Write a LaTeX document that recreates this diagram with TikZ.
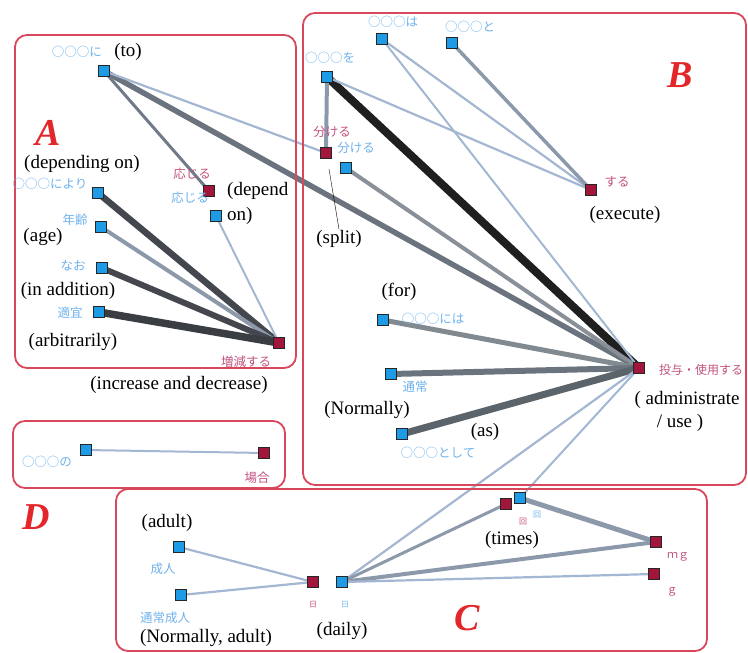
\documentclass[tikz,border=0pt]{standalone}
\usepackage{fontspec}
\setmainfont{Liberation Serif}
\newfontfamily\jfont{Noto Sans CJK JP}
\usetikzlibrary{backgrounds}
\definecolor{boxred}{HTML}{D9475C}
\definecolor{sqblue}{HTML}{1E9BE6}
\definecolor{sqred}{HTML}{A3163C}
\definecolor{jblue}{HTML}{6FB2EC}
\definecolor{jred}{HTML}{C2517E}
\definecolor{letred}{HTML}{E3262A}
\definecolor{lnlight}{HTML}{A3B6D2}
\definecolor{lnmid}{HTML}{8C99AB}
\definecolor{lngray}{HTML}{6B747E}
\definecolor{lndark}{HTML}{44484E}

\begin{document}
\begin{tikzpicture}[x=1pt, y=-1pt,
    bsq/.style={rectangle, draw=black!85, line width=1pt, fill=sqblue, minimum size=11pt, inner sep=0pt},
    rsq/.style={bsq, fill=sqred},
    jb/.style={text=jblue, font=\jfont\fontsize{12.5}{13}\selectfont, inner sep=1pt},
    jr/.style={jb, text=jred},
    jtiny/.style={font=\jfont\fontsize{8}{9}\selectfont, inner sep=1pt},
    en/.style={font=\fontsize{19}{21}\selectfont, inner sep=1pt},
    big/.style={text=letred, font=\bfseries\itshape\fontsize{38}{38}\selectfont},
    grp/.style={draw=boxred, line width=1.8pt, rounded corners=12pt},
    lthin/.style={draw=lnlight, line width=2.2pt},
    lmid/.style={draw=lnmid, line width=3.5pt},
    lgray/.style={draw=lngray, line width=5.5pt},
    ldark/.style={draw=lndark, line width=6.5pt},
    lblack/.style={draw=black!88, line width=8pt}]
    \useasboundingbox (0,0) rectangle (748,653);

    \draw[grp] (15,35) rectangle (296,368);
    \draw[grp] (303,13) rectangle (746,485);
    \draw[grp] (13,421) rectangle (285,488);
    \draw[grp] (116,489) rectangle (707,651);

    \node (letA) at (48,133) [big] {A};
    \node (letB) at (680,75) [big] {B};
    \node (letC) at (467,618) [big] {C};
    \node (letD) at (36,517) [big] {D};

    % group A
    \node (ni) at (104,71) [bsq] {};
    \node (niyori) at (98,193) [bsq] {};
    \node (nenrei) at (101,227) [bsq] {};
    \node (nao) at (102,268) [bsq] {};
    \node (tekigi) at (99,312) [bsq] {};
    \node (ouR) at (209,191) [rsq] {};
    \node (ouB) at (216,216) [bsq] {};
    \node (zougen) at (279,343) [rsq] {};

    \node (lni) at (77,52) [jb] {○○○に};
    \node (eni) at (128,52) [en] {(to)};
    \node (edepon) at (82,164) [en] {(depending on)};
    \node (lniyori) at (50,184) [jb] {○○○により};
    \node (louR) at (192,174) [jr] {応じる};
    \node (louB) at (190,198) [jb] {応じる};
    \node (edep1) at (226,191) [en, anchor=west] {(depend};
    \node (edep2) at (226,216) [en, anchor=west] {on)};
    \node (lnenrei) at (75,220) [jb] {年齢};
    \node (eage) at (43,237) [en] {(age)};
    \node (lnao) at (73,266) [jb] {なお};
    \node (eadd) at (68,291) [en] {(in addition)};
    \node (ltekigi) at (70,313) [jb] {適宜};
    \node (earb) at (73,342) [en] {(arbitrarily)};
    \node (lzougen) at (246,362) [jr] {増減する};
    \node (eincr) at (179,385) [en] {(increase and decrease)};

    % group B
    \node (wo) at (327,77) [bsq] {};
    \node (ha) at (382,39) [bsq] {};
    \node (to) at (452,43) [bsq] {};
    \node (wakR) at (326,153) [rsq] {};
    \node (wakB) at (346,168) [bsq] {};
    \node (suru) at (591,190) [rsq] {};
    \node (niha) at (383,320) [bsq] {};
    \node (tsuujou) at (391,374) [bsq] {};
    \node (toshite) at (402,434) [bsq] {};
    \node (touyo) at (639,368) [rsq] {};

    \node (lwo) at (330,58) [jb] {○○○を};
    \node (lha) at (393,22) [jb] {○○○は};
    \node (lto) at (470,27) [jb] {○○○と};
    \node (lwakR) at (332,132) [jr] {分ける};
    \node (lwakB) at (356,148) [jb] {分ける};
    \node (esplit) at (339,239) [en] {(split)};
    \coordinate (splitend) at (329,169);
    \node (lsuru) at (617,182) [jr] {する};
    \node (eexec) at (625,215) [en] {(execute)};
    \node (efor) at (399,292) [en] {(for)};
    \node (lniha) at (433,319) [jb] {○○○には};
    \node (ltsuujou) at (415,387) [jb] {通常};
    \node (enorm) at (367,410) [en] {(Normally)};
    \node (ltoshite) at (438,453) [jb] {○○○として};
    \node (eas) at (485,432) [en] {(as)};
    \node (ltouyo) at (701,370) [jr, font=\jfont\fontsize{12}{13}\selectfont] {投与・使用する};
    \node (eadm1) at (687,400) [en] {( administrate};
    \node (eadm2) at (680,423) [en] {/ use )};

    % group D
    \node (no) at (86,450) [bsq] {};
    \node (baai) at (264,453) [rsq] {};
    \node (lno) at (47,462) [jb] {○○○の};
    \node (lbaai) at (257,478) [jr] {場合};

    % group C
    \node (seijin) at (179,547) [bsq] {};
    \node (tseijin) at (181,595) [bsq] {};
    \node (hiR) at (313,582) [rsq] {};
    \node (hiB) at (342,582) [bsq] {};
    \node (kaiR) at (506,504) [rsq] {};
    \node (kaiB) at (520,498) [bsq] {};
    \node (mg) at (656,542) [rsq] {};
    \node (g) at (654,574) [rsq] {};

    \node (eadult) at (167,523) [en] {(adult)};
    \node (lseijin) at (163,569) [jb] {成人};
    \node (ltseijin) at (165,618) [jb] {通常成人};
    \node (enadult) at (206,638) [en] {(Normally, adult)};
    \node (lhiR) at (313,605) [jtiny, text=jred] {日};
    \node (lhiB) at (345,605) [jtiny, text=jblue] {日};
    \node (edaily) at (342,631) [en] {(daily)};
    \node (lkaiR) at (523,522) [jtiny, text=jred] {回};
    \node (lkaiB) at (537,515) [jtiny, text=jblue] {回};
    \node (etimes) at (512,540) [en] {(times)};
    \node (lmg) at (678,557) [jr, font=\jfont\fontsize{11}{12}\selectfont] {ｍｇ};
    \node (lg) at (672,592) [jr, font=\jfont\fontsize{11}{12}\selectfont] {ｇ};

    \draw[thin] (splitend) -- (esplit.north);

    \begin{scope}[on background layer]
    \draw[lgray] (ni.center) -- (touyo.center);
    \draw[lmid, line width=3pt, draw=lnmid!80!black] (ni.center) -- (ouR.center);
    \draw[lthin] (ni.center) -- (wakR.center);
    \draw[ldark] (niyori.center) -- (zougen.center);
    \draw[lmid, line width=4pt] (nenrei.center) -- (zougen.center);
    \draw[ldark, line width=6pt] (nao.center) -- (zougen.center);
    \draw[ldark, line width=7.5pt, draw=lndark!85!black] (tekigi.center) -- (zougen.center);
    \draw[lthin, line width=2pt] (ouB.center) -- (zougen.center);

    \draw[lblack] (wo.center) -- (touyo.center);
    \draw[lmid, line width=4pt] (wo.center) -- (wakR.center);
    \draw[lthin] (wo.center) -- (suru.center);
    \draw[lthin] (ha.center) -- (suru.center);
    \draw[lthin, line width=2pt] (ha.center) -- (touyo.center);
    \draw[lmid] (to.center) -- (suru.center);
    \draw[lgray, line width=4pt, draw=lngray!80] (wakB.center) -- (touyo.center);
    \draw[lgray, line width=5pt, draw=lngray!85] (niha.center) -- (touyo.center);
    \draw[lgray, line width=6pt] (tsuujou.center) -- (touyo.center);
    \draw[lgray, line width=7pt, draw=lngray!85!black] (toshite.center) -- (touyo.center);

    \draw[lthin, line width=2pt] (no.center) -- (baai.center);

    \draw[lthin] (touyo.center) -- (hiB.center);
    \draw[lthin, line width=2pt] (touyo.center) -- (kaiB.center);
    \draw[lmid, line width=3pt] (hiB.center) -- (kaiR.center);
    \draw[lmid, line width=4pt] (hiB.center) -- (mg.center);
    \draw[lthin] (hiB.center) -- (g.center);
    \draw[lmid, line width=5pt] (kaiB.center) -- (mg.center);
    \draw[lthin] (seijin.center) -- (hiR.center);
    \draw[lthin] (tseijin.center) -- (hiR.center);
    \end{scope}
\end{tikzpicture}
\end{document}
